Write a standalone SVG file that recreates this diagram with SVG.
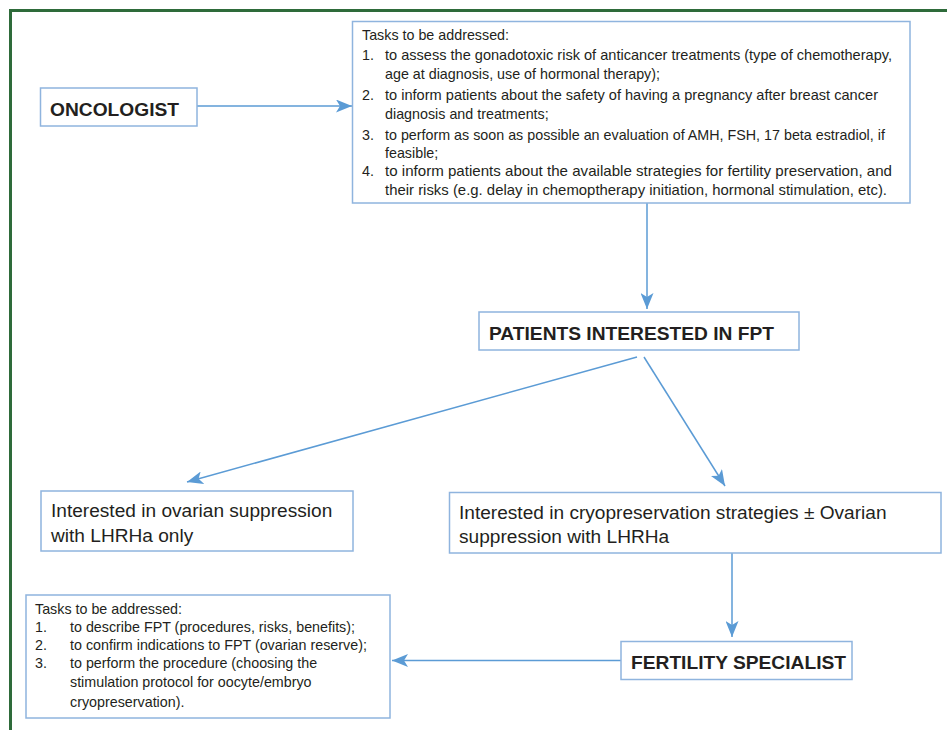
<svg xmlns="http://www.w3.org/2000/svg" width="947" height="730" viewBox="0 0 947 730">
  <style>
    .box { fill: #ffffff; stroke: #8fb4de; stroke-width: 1.5; }
    .head { font-family: "Liberation Sans", Arial, sans-serif; font-weight: bold; font-size: 19.2px; fill: #231f20; }
    .body { font-family: "Liberation Sans", Arial, sans-serif; font-size: 19.1px; fill: #231f20; }
    .task { font-family: "Liberation Sans", Arial, sans-serif; font-size: 14.3px; fill: #231f20; }
    .conn { fill: none; stroke: #5b9bd5; stroke-width: 1.5; marker-end: url(#arrow); }
  </style>
  <defs>
    <marker id="arrow" markerUnits="userSpaceOnUse" markerWidth="16" markerHeight="13" viewBox="0 0 16 13" refX="16" refY="6.5" orient="auto">
      <path d="M0,0 L16,6.5 L0,13 L4,6.5 Z" fill="#5b9bd5"/>
    </marker>
  </defs>
  <rect width="947" height="730" fill="#ffffff"/>
  <g id="frame">
    <path d="M10.5,730 L10.5,10.5 L947,10.5" fill="none" stroke="#2e6b3a" stroke-width="3"/>
  </g>

  <g id="connectors">
    <line class="conn" x1="197" y1="106" x2="352" y2="106"/>
    <line class="conn" x1="647" y1="203" x2="647" y2="309"/>
    <line class="conn" x1="637" y1="357" x2="187" y2="482"/>
    <line class="conn" x1="644" y1="357" x2="725" y2="486"/>
    <line class="conn" x1="732" y1="553" x2="732" y2="637"/>
    <line class="conn" x1="621" y1="660.5" x2="392" y2="660.5"/>
  </g>

  <g id="oncologist">
    <rect class="box" x="40.5" y="88" width="156.5" height="38"/>
    <text class="head" x="50" y="116">ONCOLOGIST</text>
  </g>

  <g id="oncologist-tasks">
    <rect class="box" x="352.5" y="21.5" width="557.5" height="181.5"/>
    <text class="task" x="362" y="40">Tasks to be addressed:</text>
    <text class="task" x="362" y="60">1.</text>
    <text class="task" x="385" y="60" textLength="507" lengthAdjust="spacingAndGlyphs">to assess the gonadotoxic risk of anticancer treatments (type of chemotherapy,</text>
    <text class="task" x="385" y="79">age at diagnosis, use of hormonal therapy);</text>
    <text class="task" x="362" y="100">2.</text>
    <text class="task" x="385" y="100" textLength="493" lengthAdjust="spacingAndGlyphs">to inform patients about the safety of having a pregnancy after breast cancer</text>
    <text class="task" x="385" y="119">diagnosis and treatments;</text>
    <text class="task" x="362" y="140">3.</text>
    <text class="task" x="385" y="140">to perform as soon as possible an evaluation of AMH, FSH, 17 beta estradiol, if</text>
    <text class="task" x="385" y="158">feasible;</text>
    <text class="task" x="362" y="176">4.</text>
    <text class="task" x="385" y="176" textLength="507" lengthAdjust="spacingAndGlyphs">to inform patients about the available strategies for fertility preservation, and</text>
    <text class="task" x="385" y="195" textLength="502" lengthAdjust="spacingAndGlyphs">their risks (e.g. delay in chemoptherapy initiation, hormonal stimulation, etc).</text>
  </g>

  <g id="patients">
    <rect class="box" x="479" y="312" width="320" height="38"/>
    <text class="head" x="489" y="340">PATIENTS INTERESTED IN FPT</text>
  </g>

  <g id="ovarian">
    <rect class="box" x="41" y="491" width="312" height="60"/>
    <text class="body" x="51" y="517">Interested in ovarian suppression</text>
    <text class="body" x="51" y="542">with LHRHa only</text>
  </g>

  <g id="cryo">
    <rect class="box" x="449.5" y="492.5" width="491.5" height="60.5"/>
    <text class="body" x="459" y="519">Interested in cryopreservation strategies ± Ovarian</text>
    <text class="body" x="459" y="543">suppression with LHRHa</text>
  </g>

  <g id="fertility">
    <rect class="box" x="621" y="641.5" width="231" height="38"/>
    <text class="head" x="631" y="669">FERTILITY SPECIALIST</text>
  </g>

  <g id="fertility-tasks">
    <rect class="box" x="26" y="595" width="364" height="123"/>
    <text class="task" x="35" y="614">Tasks to be addressed:</text>
    <text class="task" x="35" y="632">1.</text>
    <text class="task" x="70" y="632">to describe FPT (procedures, risks, benefits);</text>
    <text class="task" x="35" y="650">2.</text>
    <text class="task" x="70" y="650">to confirm indications to FPT (ovarian reserve);</text>
    <text class="task" x="35" y="668">3.</text>
    <text class="task" x="70" y="668">to perform the procedure (choosing the</text>
    <text class="task" x="70" y="687">stimulation protocol for oocyte/embryo</text>
    <text class="task" x="70" y="707">cryopreservation).</text>
  </g>
</svg>
